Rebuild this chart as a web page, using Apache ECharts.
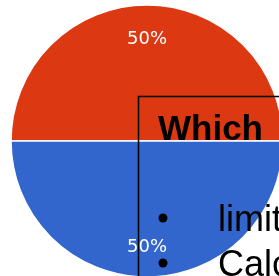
<!DOCTYPE html>
<html>
<head>
<meta charset="UTF-8">
<title></title>
<script src="https://cdn.jsdelivr.net/npm/echarts@6/dist/echarts.min.js"></script>
<style>
  html, body { margin: 0; padding: 0; background: #fff; }
  #main { width: 279px; height: 276px; }
</style>
</head>
<body>
<div id="main"></div>
<script type="text/javascript">
var categories = ['Top', 'Bottom'];
var values = [50, 50];
var colors = ['#DC3912', '#3366CC'];
var bulletLines = ['limit', 'Calc'];

var pieData = categories.map(function (name, i) {
  return { name: name, value: values[i], itemStyle: { color: colors[i] } };
});

var myChart = echarts.init(document.getElementById('main'));
var option = {
  animation: false,
  series: [{
    // the pie itself
    type: 'pie',
    center: [147, 141],
    radius: [0, 136],
    startAngle: 180,
    silent: true,
    label: { show: false },
    labelLine: { show: false },
    itemStyle: { borderColor: '#fff', borderWidth: 1.5 },
    data: pieData
  }, {
    // transparent ring, only used to place the percent labels
    type: 'pie',
    center: [147, 141],
    radius: [70, 136],
    startAngle: 180,
    silent: true,
    itemStyle: { color: 'rgba(0,0,0,0)' },
    label: {
      show: true,
      position: 'inside',
      formatter: '{d}%',
      color: '#fff',
      fontSize: 18,
      fontFamily: 'DejaVu Sans'
    },
    labelLine: { show: false },
    data: categories.map(function (name, i) {
      var item = { name: name, value: values[i] };
      if (i === 0) item.label = { offset: [0, 4] };
      return item;
    })
  }],
  graphic: {
    elements: [
      {
        type: 'rect', z: 100,
        shape: { x: 138.5, y: 96.5, width: 200, height: 220 },
        style: { fill: 'none', stroke: '#000', lineWidth: 1.5 }
      },
      {
        type: 'text', x: 158, y: 130, z: 100,
        style: { text: 'Which', fill: '#000', font: 'bold 35px "Liberation Sans", Arial', verticalAlign: 'middle' }
      },
      { type: 'circle', z: 100, shape: { cx: 163, cy: 218, r: 4.5 }, style: { fill: '#000' } },
      { type: 'circle', z: 100, shape: { cx: 163, cy: 263, r: 4.5 }, style: { fill: '#000' } },
      {
        type: 'text', x: 218, y: 221, z: 100,
        style: { text: bulletLines[0], fill: '#000', font: '36px "Liberation Sans", Arial', verticalAlign: 'middle' }
      },
      {
        type: 'text', x: 218, y: 266, z: 100,
        style: { text: bulletLines[1], fill: '#000', font: '36px "Liberation Sans", Arial', verticalAlign: 'middle' }
      }
    ]
  }
};
myChart.setOption(option);
</script>
</body>
</html>
